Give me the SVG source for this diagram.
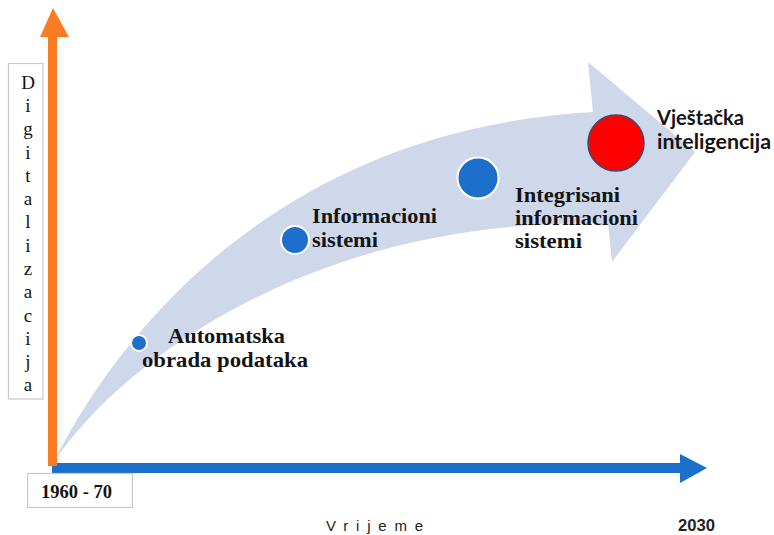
<svg xmlns="http://www.w3.org/2000/svg" width="774" height="535" viewBox="0 0 774 535">
<style>
.serif{font-family:"Liberation Serif","Times New Roman",serif;fill:#141414}
.sb{font-family:"Liberation Serif","Times New Roman",serif;font-weight:bold;font-size:22px;fill:#141414}
.sans{font-family:"Liberation Sans",Arial,sans-serif;fill:#222}
.lato{font-family:Lato,"Liberation Sans",sans-serif;font-weight:bold;font-size:21px;fill:#141414}
.box{fill:#fff;stroke:#c8c8c8;stroke-width:1.2}
.dot{fill:#1c6fcb;stroke:#fff;stroke-width:2}
</style>
<rect width="774" height="535" fill="#fff"/>
<g id="connectors">
  <path id="band" d="M52,465 C120,330 280,130 593,112 L588,62 L695,152 L612,262 L608,224 C320,215 120,360 52,465 Z" fill="#cfd8ea"/>
  <path id="time-axis" d="M52,463 L680,463 L680,454 L707,468 L680,483 L680,473 L52,473 Z" fill="#1c6fcb"/>
  <path id="digit-axis" d="M48,466 L48,37 L40,37 L53,8 L69,37 L57,37 L57,466 Z" fill="#f97b22"/>
</g>
<g id="label-digitalizacija">
  <rect class="box" x="8.5" y="63.5" width="34.5" height="335.5"/>
  <text class="serif" font-size="19" text-anchor="middle">
    <tspan x="28" y="89">D</tspan><tspan x="28" y="112">i</tspan><tspan x="28" y="135">g</tspan><tspan x="28" y="159">i</tspan><tspan x="28" y="182">t</tspan><tspan x="28" y="205">a</tspan><tspan x="28" y="228">l</tspan><tspan x="28" y="252">i</tspan><tspan x="28" y="275">z</tspan><tspan x="28" y="298">a</tspan><tspan x="28" y="322">c</tspan><tspan x="28" y="345">i</tspan><tspan x="28" y="368">j</tspan><tspan x="28" y="391">a</tspan>
  </text>
</g>
<g id="label-start">
  <rect class="box" x="27.5" y="473.5" width="105" height="34"/>
  <text class="serif" font-weight="bold" font-size="18" x="41" y="498" textLength="71" lengthAdjust="spacingAndGlyphs">1960 - 70</text>
</g>
<g id="label-vrijeme">
  <text class="sans" font-size="15" x="326" y="531" textLength="97" lengthAdjust="spacing">Vrijeme</text>
</g>
<g id="label-2030">
  <text class="sans" font-weight="bold" font-size="16" x="678" y="531" textLength="37" lengthAdjust="spacingAndGlyphs" fill="#111">2030</text>
</g>
<g id="node-automatska">
  <circle class="dot" cx="139" cy="343" r="8"/>
  <text class="sb" x="168" y="343" textLength="117" lengthAdjust="spacingAndGlyphs">Automatska</text>
  <text class="sb" x="142" y="367" textLength="166" lengthAdjust="spacingAndGlyphs">obrada podataka</text>
</g>
<g id="node-informacioni">
  <circle class="dot" cx="295" cy="240" r="14"/>
  <text class="sb" x="312" y="223" textLength="125" lengthAdjust="spacingAndGlyphs">Informacioni</text>
  <text class="sb" x="312" y="247" textLength="66" lengthAdjust="spacingAndGlyphs">sistemi</text>
</g>
<g id="node-integrisani">
  <circle class="dot" cx="478" cy="178" r="20.5"/>
  <text class="sb" x="515" y="202" textLength="105" lengthAdjust="spacingAndGlyphs">Integrisani</text>
  <text class="sb" x="515" y="225" textLength="123" lengthAdjust="spacingAndGlyphs">informacioni</text>
  <text class="sb" x="515" y="248" textLength="67" lengthAdjust="spacingAndGlyphs">sistemi</text>
</g>
<g id="node-vjestacka">
  <circle cx="616" cy="143" r="28" fill="#ff0000" stroke="#3a4a6e" stroke-width="1.5"/>
  <text class="lato" x="657" y="125" textLength="87" lengthAdjust="spacingAndGlyphs">Vještačka</text>
  <text class="lato" x="657" y="149" textLength="114" lengthAdjust="spacingAndGlyphs">inteligencija</text>
</g>
</svg>
